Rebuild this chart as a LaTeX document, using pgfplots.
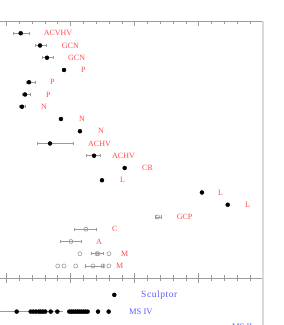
\documentclass[border=0pt]{standalone}
\usepackage{pgfplots}
\pgfplotsset{compat=1.18}
\usepackage{pgfplotstable}
\usepackage{fontspec}
\setmainfont{Liberation Serif}
\definecolor{lblred}{HTML}{FF4A4A}
\definecolor{lblblue}{HTML}{5A5AFF}
\definecolor{axgray}{HTML}{9A9A9A}

\pgfplotstableread{
x y ep em
1.12 1 0.65 0.60
2.63 2 0.46 0.39
3.17 3 0.47 0.39
1.77 5 0.47 0.23
1.46 6 0.39 0.24
1.22 7 0.24 0.23
3.41 10 1.79 1.02
6.84 11 0.46 0.63
}\filledErr
\pgfplotstableread{
x y
4.50 4
4.26 8
5.74 9
9.23 12
7.46 13
15.25 14
17.26 15
}\filledNoErr
\pgfplotstableread{
x y ep em
11.80 16 0.26 0.21
6.21 17 0.78 0.93
5.04 18 0.78 0.85
7.05 19 0.49 0.45
6.76 20 0.78 0.63
}\openErr
\pgfplotstableread{
x y
5.74 19
7.15 19
8.00 19
4.01 20
4.50 20
5.41 20
7.54 20
8.00 20
}\openNoErr
\pgfplotstableread{
x y
0.81 2
1.90 2
2.10 2
2.31 2
2.53 2
2.68 2
2.86 2
3.04 2
3.46 2
3.98 2
4.91 2
5.07 2
5.22 2
5.38 2
5.54 2
5.69 2
5.85 2
6.01 2
6.16 2
6.34 2
7.15 2
7.98 2
}\msfour

\begin{document}
\begin{tikzpicture}
\tikzset{lbl/.style={anchor=west, inner sep=0pt, font=\fontsize{8}{9}\selectfont}}
\pgfplotsset{
  panel/.style={
    x=12.83pt, xmin=-3, xmax=20,
    y dir=reverse,
    xtick={-5,0,5,10,15,20},
    minor x tick num=4,
    xticklabels=\empty,
    ytick=\empty,
    tick align=inside,
    major tick length=5pt,
    minor tick length=3pt,
    every tick/.style={draw=axgray, line width=0.5pt},
    axis line style={draw=axgray, line width=0.6pt},
    clip=false,
  },
}
\begin{axis}[panel, name=top, y=12.25pt, ymin=0, ymax=21]
  \draw[gray!30, line width=1.6pt] (rel axis cs:1,0) -- (rel axis cs:1,1);
  \addplot[only marks, mark=*, mark size=2pt, black,
    error bars/.cd, x dir=both, x explicit,
    error bar style={axgray, line width=0.5pt},
    error mark options={rotate=90, axgray, mark size=1.6pt, line width=0.5pt}]
    table[x=x, y=y, x error plus=ep, x error minus=em] {\filledErr};
  \addplot[only marks, mark=*, mark size=2pt, black] table[x=x, y=y] {\filledNoErr};
  \addplot[only marks, mark=o, mark size=2pt, axgray, mark options={line width=0.6pt},
    error bars/.cd, x dir=both, x explicit,
    error bar style={axgray, line width=0.5pt},
    error mark options={rotate=90, axgray, mark size=1.6pt, line width=0.5pt}]
    table[x=x, y=y, x error plus=ep, x error minus=em] {\openErr};
  \addplot[only marks, mark=o, mark size=2pt, axgray, mark options={line width=0.6pt}]
    table[x=x, y=y] {\openNoErr};
  \node[lbl, lblred] at (axis cs:2.91,1) {ACVHV};
  \node[lbl, lblred] at (axis cs:4.32,2) {GCN};
  \node[lbl, lblred] at (axis cs:4.81,3) {GCN};
  \node[lbl, lblred] at (axis cs:5.82,4) {P};
  \node[lbl, lblred] at (axis cs:3.41,5) {P};
  \node[lbl, lblred] at (axis cs:3.09,6) {P};
  \node[lbl, lblred] at (axis cs:2.70,7) {N};
  \node[lbl, lblred] at (axis cs:5.67,8) {N};
  \node[lbl, lblred] at (axis cs:7.15,9) {N};
  \node[lbl, lblred] at (axis cs:6.37,10) {ACHV};
  \node[lbl, lblred] at (axis cs:8.24,11) {ACHV};
  \node[lbl, lblred] at (axis cs:10.58,12) {CR};
  \node[lbl, lblred] at (axis cs:8.86,13) {L};
  \node[lbl, lblred] at (axis cs:16.50,14) {L};
  \node[lbl, lblred] at (axis cs:18.60,15) {L};
  \node[lbl, lblred] at (axis cs:13.28,16) {GCP};
  \node[lbl, lblred] at (axis cs:8.24,17) {C};
  \node[lbl, lblred] at (axis cs:6.99,18) {A};
  \node[lbl, lblred] at (axis cs:8.94,19) {M};
  \node[lbl, lblred] at (axis cs:8.55,20) {M};
  \coordinate (BBtl) at (axis cs:-0.491,-1.714);
  \coordinate (BBbr) at (axis cs:21.57,24.82);
\end{axis}
\begin{axis}[panel, at={(top.south west)}, anchor=north west,
    y=16.7pt, ymin=0, ymax=3.5]
  \draw[gray!30, line width=1.6pt] (rel axis cs:1,0) -- (rel axis cs:1,1);
  \addplot[axgray, line width=0.6pt] coordinates {(-3,2) (4.42,2)};
  \addplot[only marks, mark=*, mark size=2pt, black] coordinates {(8.42,1)};
  \addplot[only marks, mark=*, mark size=2pt, black] table[x=x, y=y] {\msfour};
  \node[lbl, lblblue, font=\fontsize{9.5}{11}\selectfont\addfontfeatures{LetterSpace=6}] at (axis cs:10.50,1) {Sculptor};
  \node[lbl, lblblue, font=\fontsize{8.5}{10}\selectfont] at (axis cs:9.56,2) {MS IV};
  \node[lbl, lblblue, font=\fontsize{8.5}{10}\selectfont] at (axis cs:17.59,2.9) {MS II};
\end{axis}
\pgfresetboundingbox
\path[use as bounding box] (BBtl) rectangle (BBbr);
\end{tikzpicture}
\end{document}
